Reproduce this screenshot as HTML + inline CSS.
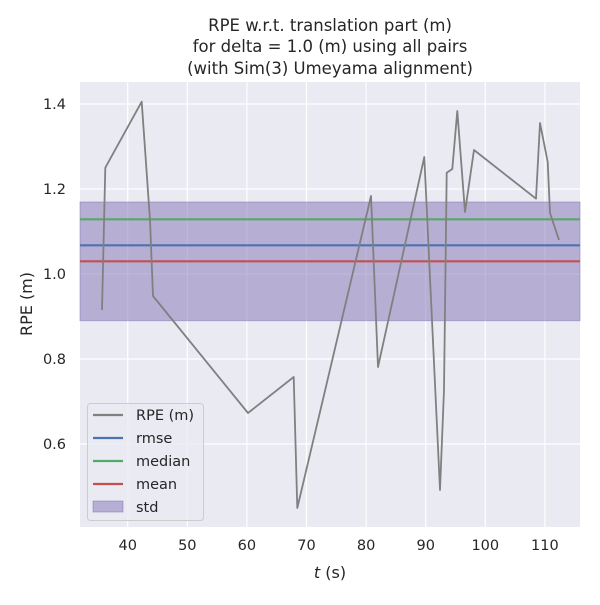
<!DOCTYPE html>
<html><head><style>body{margin:0;background:#fff}</style></head><body>
<svg width="600" height="600" xmlns="http://www.w3.org/2000/svg" font-family="DejaVu Sans, Liberation Sans, sans-serif">
<rect x="0" y="0" width="600" height="600" fill="#fff"/>
<rect x="80" y="82" width="500" height="445" fill="#eaeaf2"/>
<g stroke="#fff" stroke-width="1.2">
<line x1="127.7" y1="82" x2="127.7" y2="527"/><line x1="187.3" y1="82" x2="187.3" y2="527"/><line x1="246.9" y1="82" x2="246.9" y2="527"/><line x1="306.5" y1="82" x2="306.5" y2="527"/><line x1="366.1" y1="82" x2="366.1" y2="527"/><line x1="425.7" y1="82" x2="425.7" y2="527"/><line x1="485.3" y1="82" x2="485.3" y2="527"/><line x1="544.9" y1="82" x2="544.9" y2="527"/>
<line x1="80" y1="104" x2="580" y2="104"/><line x1="80" y1="189" x2="580" y2="189"/><line x1="80" y1="274" x2="580" y2="274"/><line x1="80" y1="359" x2="580" y2="359"/><line x1="80" y1="444" x2="580" y2="444"/>
</g>
<rect x="80" y="202" width="500" height="118.7" fill="#8172b3" fill-opacity="0.5" stroke="#8172b3" stroke-opacity="0.5"/>
<line x1="80" y1="219.3" x2="580" y2="219.3" stroke="#55a868" stroke-width="2.2"/>
<line x1="80" y1="245.3" x2="580" y2="245.3" stroke="#4c72b0" stroke-width="2.2"/>
<line x1="80" y1="261.3" x2="580" y2="261.3" stroke="#c44e52" stroke-width="2.2"/>
<polyline fill="none" stroke="#808080" stroke-width="1.8" stroke-linejoin="round" points="102,310 105.3,167.7 141.7,101.7 150,220 153,296 248,413 293.7,377 297.3,508 371,196 378,367 424.3,157 440,490 444,390 446.7,172.7 452.3,169 457.3,111 465,212 474,150 536,198.7 540,123 547.7,162 550,213 559,240"/>
<g font-size="14.5" fill="#262626" text-anchor="middle">
<text x="127.7" y="550">40</text><text x="187.3" y="550">50</text><text x="246.9" y="550">60</text><text x="306.5" y="550">70</text><text x="366.1" y="550">80</text><text x="425.7" y="550">90</text><text x="485.3" y="550">100</text><text x="544.9" y="550">110</text>
</g>
<g font-size="14.5" fill="#262626" text-anchor="end">
<text x="66" y="109">1.4</text><text x="66" y="194">1.2</text><text x="66" y="279">1.0</text><text x="66" y="364">0.8</text><text x="66" y="449">0.6</text>
</g>
<text x="330" y="578" font-size="16" fill="#262626" text-anchor="middle"><tspan font-style="italic">t</tspan> (s)</text>
<text transform="translate(32,304) rotate(-90)" font-size="16" fill="#262626" text-anchor="middle">RPE (m)</text>
<g font-size="16.5" fill="#262626" text-anchor="middle">
<text x="330" y="31">RPE w.r.t. translation part (m)</text>
<text x="330" y="52">for delta = 1.0 (m) using all pairs</text>
<text x="330" y="74">(with Sim(3) Umeyama alignment)</text>
</g>
<rect x="87.5" y="403.5" width="116" height="117" rx="3" fill="#eaeaf2" fill-opacity="0.8" stroke="#ccc"/>
<g stroke-width="2.2">
<line x1="93" y1="415" x2="123" y2="415" stroke="#808080"/>
<line x1="93" y1="438" x2="123" y2="438" stroke="#4c72b0"/>
<line x1="93" y1="461" x2="123" y2="461" stroke="#55a868"/>
<line x1="93" y1="484" x2="123" y2="484" stroke="#c44e52"/>
</g>
<rect x="93" y="501" width="30" height="11" fill="#8172b3" fill-opacity="0.5" stroke="#8172b3" stroke-opacity="0.5"/>
<g font-size="14.5" fill="#262626">
<text x="136" y="420">RPE (m)</text><text x="136" y="443">rmse</text><text x="136" y="466">median</text><text x="136" y="489">mean</text><text x="136" y="512">std</text>
</g>
</svg>
</body></html>
